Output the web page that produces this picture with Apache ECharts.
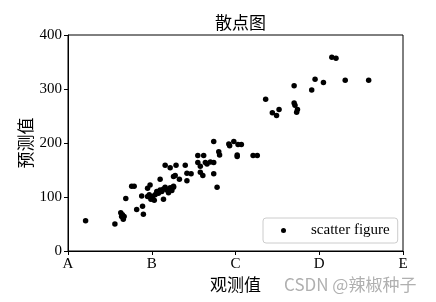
<!DOCTYPE html>
<html><head><meta charset="utf-8">
<script src="https://cdn.jsdelivr.net/npm/echarts@6/dist/echarts.min.js"></script>
<style>html,body{margin:0;padding:0;background:#fff}#c{width:436px;height:302px}</style>
</head><body><div id="c"></div>
<script>
const titleText = '散点图';
const xName = '观测值';
const yName = '预测值';
const seriesName = 'scatter figure';
const xTickLabels = ['A','B','C','D','E'];
const yTicks = [0,100,200,300,400];
const xs = [21,56,63,65,67,64,66,69,76,79,82,88,89,90,95,98,95,97,99,101,103,104,106,108,110,112,114,116,118,120,122,124,126,110,114,116,122,129,126,128,133,126,140,142,147,142,155,162,155,158,158,161,164,166,170,174,174,174,178,180,181,192,193,198,203,207,202,202,221,226,236,244,249,252,270,270,271,274,273,291,295,305,315,320,331,359];
const ys = [56,50,71,67,64,64,59,97,120,120,77,102,83,68,116,122,101,104,96,101,94,104,110,107,113,110,115,118,113,108,117,112,120,133,96,159,154,159,138,140,133,118,159,144,143,130,177,177,164,157,146,140,164,161,165,203,164,143,118,184,178,198,195,203,197,197,178,175,177,177,281,256,251,262,306,274,270,262,257,298,318,312,359,357,316,316];
const pts = xs.map((x,i)=>[x, ys[i]]);
const serif = '"Liberation Serif","Times New Roman",serif';
const cjk = '"Noto Sans CJK SC",sans-serif';
const chart = echarts.init(document.getElementById('c'));
chart.setOption({
  animation:false,
  title:{text:titleText, left:235.5, textAlign:'center', top:9, textStyle:{fontFamily:cjk, fontSize:17, fontWeight:'normal', color:'#000'}},
  grid:{left:68, right:33, top:35, bottom:51, show:true, borderColor:'#000', borderWidth:1},
  xAxis:{type:'value', min:0, max:400, interval:100, name:xName, nameLocation:'middle', nameGap:25, nameMoveOverlap:false,
    nameTextStyle:{fontFamily:cjk, fontSize:17, color:'#000', verticalAlign:'top'},
    axisLine:{show:true, lineStyle:{color:'#000', width:1}},
    axisTick:{show:true, inside:false, length:4, lineStyle:{color:'#000'}},
    axisLabel:{fontFamily:serif, fontSize:15, color:'#000', margin:6, formatter:v=>xTickLabels[Math.round(v/100)]},
    splitLine:{show:false}},
  yAxis:{type:'value', min:yTicks[0], max:yTicks[yTicks.length-1], interval:100, name:yName, nameLocation:'middle', nameGap:34, nameMoveOverlap:false,
    nameTextStyle:{fontFamily:cjk, fontSize:17, color:'#000'},
    axisLine:{show:true, lineStyle:{color:'#000', width:1}},
    axisTick:{show:true, inside:false, length:4, lineStyle:{color:'#000'}},
    axisLabel:{fontFamily:serif, fontSize:15, color:'#000', margin:6},
    splitLine:{show:false}},
  legend:{data:[seriesName], left:263, top:218, orient:'vertical', padding:[5,8,5,18], itemWidth:5, itemHeight:5,
    borderColor:'#ccc', borderWidth:1, borderRadius:3, backgroundColor:'#fff', icon:'circle',
    itemStyle:{opacity:1},
    textStyle:{fontFamily:serif, fontSize:15, color:'#000', padding:[0,0,0,20]}},
  series:[{name:seriesName, type:'scatter', data:pts, symbol:'circle', symbolSize:5.5, itemStyle:{color:'#000', opacity:1}}],
  graphic:[{type:'text', left:284, top:276, style:{text:'CSDN @辣椒种子', fill:'#b0b0b0', font:'17px "Noto Sans CJK SC",sans-serif'}}]
});
</script></body></html>
